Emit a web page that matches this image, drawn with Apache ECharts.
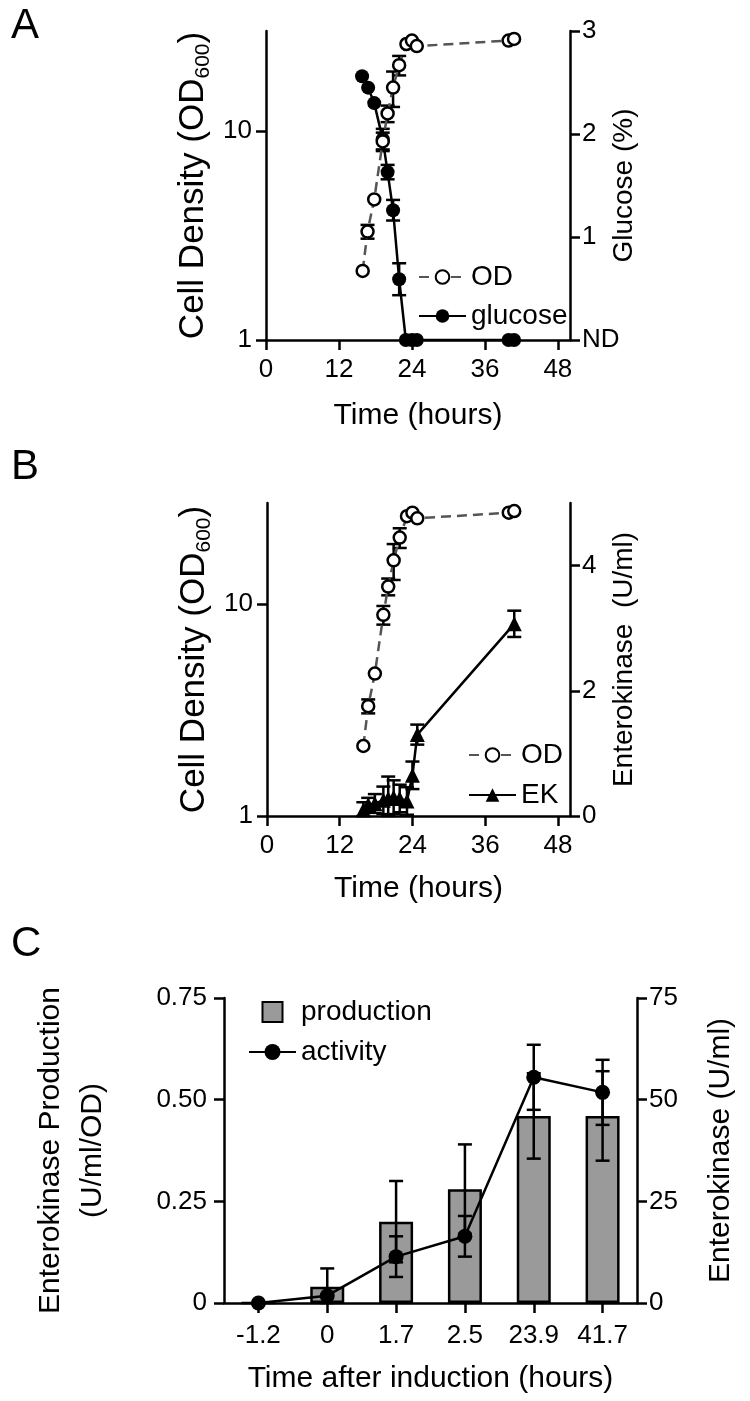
<!DOCTYPE html>
<html>
<head>
<meta charset="utf-8">
<script src="https://cdn.jsdelivr.net/npm/echarts@6/dist/echarts.min.js"></script>
<style>
  html, body { margin: 0; padding: 0; background: #fff; }
  #chart { width: 750px; height: 1401px; }
</style>
</head>
<body>
<div id="chart"></div>
<script>
// panel A / B : growth curve
var odHours = [15.9, 16.7, 17.8, 19.2, 20.0, 20.9, 21.9, 23.1, 24.0, 24.8, 39.9, 40.8];
var odValues = [2.14, 3.3, 4.7, 8.9, 12.1, 16.1, 20.6, 26.0, 27.0, 25.4, 27.0, 27.5];
var odErrors = [0, 0.25, 0, 0.9, 1.1, 3.1, 2.2, 0, 0, 0, 0, 0];

var glucoseHours = [15.8, 16.8, 17.8, 19.2, 20.0, 20.9, 21.9, 23.0, 24.0, 24.8, 39.9, 40.8];
var glucoseValues = [2.56, 2.45, 2.30, 1.95, 1.63, 1.26, 0.59, 0, 0, 0, 0, 0];
var glucoseErrors = [0, 0, 0, 0.1, 0.07, 0.1, 0.155, 0, 0, 0, 0, 0];

var ekHours = [15.9, 16.7, 17.8, 19.2, 20.0, 20.9, 21.9, 23.1, 24.0, 24.8, 40.8];
var ekValues = [0.1, 0.18, 0.2, 0.25, 0.28, 0.3, 0.28, 0.24, 0.65, 1.3, 3.07];
var ekErrors = [0.12, 0.11, 0.15, 0.22, 0.35, 0.27, 0.22, 0.22, 0.22, 0.16, 0.21];

var hourTicks = [0, 12, 24, 36, 48];

// panel C
var inductionLabels = ['-1.2', '0', '1.7', '2.5', '23.9', '41.7'];
var productionValues = [0, 0.04, 0.2, 0.28, 0.46, 0.46];
var productionErrors = [0, 0.045, 0.1, 0.11, 0.105, 0.11];
var activityValues = [0, 1.8, 11.4, 16.4, 55.5, 51.8];
var activityErrors = [0, 0, 5, 5, 8, 8];

var FONT = 'Liberation Sans, Arial, sans-serif';

function pairs(xs, ys) {
  return xs.map(function (x, i) { return [x, ys[i]]; });
}
function errs(xs, ys, es, floor) {
  var out = [];
  xs.forEach(function (x, i) {
    if (es[i] > 0) out.push([x, Math.max(floor, ys[i] - es[i]), ys[i] + es[i]]);
  });
  return out;
}

function errorBar(params, api) {
  var x = api.value(0);
  var lo = api.coord([x, api.value(1)]);
  var hi = api.coord([x, api.value(2)]);
  var w = 7;
  var st = { stroke: '#000', lineWidth: 2.5 };
  return {
    type: 'group',
    children: [
      { type: 'line', shape: { x1: lo[0], y1: lo[1], x2: hi[0], y2: hi[1] }, style: st },
      { type: 'line', shape: { x1: lo[0] - w, y1: lo[1], x2: lo[0] + w, y2: lo[1] }, style: st },
      { type: 'line', shape: { x1: hi[0] - w, y1: hi[1], x2: hi[0] + w, y2: hi[1] }, style: st }
    ]
  };
}

var axisLine = { show: true, onZero: false, lineStyle: { color: '#000', width: 2.5 } };
var axisTick = { show: true, length: 10, lineStyle: { color: '#000', width: 2.5 } };
var labelStyle = { color: '#000', fontSize: 26, fontFamily: FONT };
function nameStyle(size) {
  return { color: '#000', fontSize: size, fontFamily: FONT, lineHeight: Math.round(size * 1.4) };
}
var odNameStyle = {
  color: '#000', fontSize: 35, fontFamily: FONT, lineHeight: 42,
  rich: { sub: { fontSize: 21, lineHeight: 21, fontFamily: FONT, verticalAlign: 'bottom', padding: [16, 0, 0, 0] } }
};

function hourAxis(gridIndex, gap) {
  return {
    type: 'value', gridIndex: gridIndex, min: 0, max: 50,
    axisLine: axisLine,
    axisTick: Object.assign({ customValues: hourTicks }, axisTick),
    axisLabel: Object.assign({ customValues: hourTicks, margin: 17 }, labelStyle),
    splitLine: { show: false },
    name: 'Time (hours)', nameLocation: 'middle', nameGap: gap, nameMoveOverlap: false,
    nameTextStyle: nameStyle(30)
  };
}
function odAxis(gridIndex) {
  return {
    type: 'log', logBase: 10, gridIndex: gridIndex, min: 1, max: 30,
    axisLine: axisLine,
    axisTick: Object.assign({ customValues: [1, 10] }, axisTick),
    axisLabel: Object.assign({ customValues: [1, 10], margin: 14 }, labelStyle),
    splitLine: { show: false },
    name: 'Cell Density (OD{sub|600})', nameLocation: 'middle', nameGap: 52, nameMoveOverlap: false,
    nameTextStyle: odNameStyle
  };
}

var letterStyle = { fontSize: 42, fontWeight: 'normal', color: '#000', fontFamily: FONT };
var legendText = { fontSize: 28, lineHeight: 30, color: '#000', fontFamily: FONT };

var chart = echarts.init(document.getElementById('chart'), null, { renderer: 'canvas' });

var option = {
  backgroundColor: '#fff',
  animation: false,
  textStyle: { fontFamily: FONT },
  title: [
    { text: 'A', left: 6, top: 0, textStyle: letterStyle },
    { text: 'B', left: 6, top: 441, textStyle: letterStyle },
    { text: 'C', left: 6, top: 918, textStyle: letterStyle }
  ],
  grid: [
    { left: 266, top: 31, width: 304, height: 309 },
    { left: 267, top: 503, width: 303, height: 313 },
    { left: 224, top: 998, width: 420, height: 311 }
  ],
  legend: [
    {
      data: ['OD', 'glucose'], orient: 'vertical', left: 413, top: 257,
      itemWidth: 47, itemHeight: 17, itemGap: 9, textStyle: legendText
    },
    {
      data: ['OD', 'EK'], orient: 'vertical', left: 463, top: 735,
      itemWidth: 47, itemHeight: 17, itemGap: 10, textStyle: legendText
    },
    {
      data: [{ name: 'production', icon: 'path://M0,0H10V10H0Z' }, { name: 'activity' }],
      orient: 'vertical', left: 243, top: 992, symbolKeepAspect: true,
      itemWidth: 47, itemHeight: 20, itemGap: 10, textStyle: legendText
    }
  ],
  xAxis: [
    hourAxis(0, 55),
    hourAxis(1, 52),
    {
      type: 'category', gridIndex: 2, data: inductionLabels,
      axisLine: axisLine,
      axisTick: Object.assign({ alignWithLabel: true }, axisTick),
      axisLabel: Object.assign({ margin: 20 }, labelStyle),
      name: 'Time after induction (hours)', nameLocation: 'middle', nameGap: 55, nameMoveOverlap: false,
      nameTextStyle: nameStyle(30)
    }
  ],
  yAxis: [
    odAxis(0),
    {
      type: 'value', gridIndex: 0, min: 0, max: 3, interval: 1, position: 'right',
      axisLine: axisLine, axisTick: axisTick,
      axisLabel: Object.assign({ margin: 12, formatter: function (v) { return v === 0 ? 'ND' : String(v); } }, labelStyle),
      splitLine: { show: false },
      name: 'Glucose (%)', nameLocation: 'middle', nameGap: 35, nameMoveOverlap: false,
      nameTextStyle: nameStyle(28)
    },
    odAxis(1),
    {
      type: 'value', gridIndex: 1, min: 0, max: 5, position: 'right',
      axisLine: axisLine,
      axisTick: Object.assign({ customValues: [0, 2, 4] }, axisTick),
      axisLabel: Object.assign({ margin: 12, customValues: [0, 2, 4] }, labelStyle),
      splitLine: { show: false },
      name: 'Enterokinase  (U/ml)', nameLocation: 'middle', nameGap: 35, nameMoveOverlap: false,
      nameTextStyle: nameStyle(28)
    },
    {
      type: 'value', gridIndex: 2, min: 0, max: 0.75, interval: 0.25,
      axisLine: axisLine, axisTick: axisTick,
      axisLabel: Object.assign({ margin: 17, formatter: function (v) { return v === 0 ? '0' : v.toFixed(2); } }, labelStyle),
      splitLine: { show: false },
      name: 'Enterokinase Production\n(U/ml/OD)', nameLocation: 'middle', nameGap: 110, nameMoveOverlap: false,
      nameTextStyle: Object.assign(nameStyle(30), { lineHeight: 42 })
    },
    {
      type: 'value', gridIndex: 2, min: 0, max: 75, interval: 25, position: 'right',
      axisLine: axisLine, axisTick: axisTick,
      axisLabel: Object.assign({ margin: 12 }, labelStyle),
      splitLine: { show: false },
      name: 'Enterokinase (U/ml)', nameLocation: 'middle', nameGap: 63, nameMoveOverlap: false,
      nameTextStyle: nameStyle(30)
    }
  ],
  series: [
    // A
    {
      name: 'glucose', type: 'line', xAxisIndex: 0, yAxisIndex: 1, z: 3,
      data: pairs(glucoseHours, glucoseValues),
      symbol: 'circle', symbolSize: 14,
      itemStyle: { color: '#000' },
      lineStyle: { color: '#000', width: 2.5 }
    },
    {
      name: 'glucoseErr', type: 'custom', xAxisIndex: 0, yAxisIndex: 1, z: 2,
      renderItem: errorBar, encode: { x: 0, y: [1, 2] },
      data: errs(glucoseHours, glucoseValues, glucoseErrors, 0)
    },
    {
      name: 'OD', type: 'line', xAxisIndex: 0, yAxisIndex: 0, z: 5,
      data: pairs(odHours, odValues),
      symbol: 'circle', symbolSize: 12,
      itemStyle: { color: '#fff', borderColor: '#000', borderWidth: 2.5 },
      lineStyle: { color: '#555', width: 2.5, type: [10, 6] }
    },
    {
      name: 'odErrA', type: 'custom', xAxisIndex: 0, yAxisIndex: 0, z: 4,
      renderItem: errorBar, encode: { x: 0, y: [1, 2] },
      data: errs(odHours, odValues, odErrors, 1)
    },
    // B
    {
      name: 'EK', type: 'line', xAxisIndex: 1, yAxisIndex: 3, z: 3,
      data: pairs(ekHours, ekValues),
      symbol: 'triangle', symbolSize: 15,
      itemStyle: { color: '#000' },
      lineStyle: { color: '#000', width: 2.5 }
    },
    {
      name: 'ekErr', type: 'custom', xAxisIndex: 1, yAxisIndex: 3, z: 2,
      renderItem: errorBar, encode: { x: 0, y: [1, 2] },
      data: errs(ekHours, ekValues, ekErrors, 0)
    },
    {
      name: 'OD', type: 'line', xAxisIndex: 1, yAxisIndex: 2, z: 5,
      data: pairs(odHours, odValues),
      symbol: 'circle', symbolSize: 12,
      itemStyle: { color: '#fff', borderColor: '#000', borderWidth: 2.5 },
      lineStyle: { color: '#555', width: 2.5, type: [10, 6] }
    },
    {
      name: 'odErrB', type: 'custom', xAxisIndex: 1, yAxisIndex: 2, z: 4,
      renderItem: errorBar, encode: { x: 0, y: [1, 2] },
      data: errs(odHours, odValues, odErrors, 1)
    },
    // C
    {
      name: 'production', type: 'bar', xAxisIndex: 2, yAxisIndex: 4, z: 2,
      data: productionValues, barWidth: 34,
      itemStyle: { color: '#9a9a9a', borderColor: '#000', borderWidth: 2.5 }
    },
    {
      name: 'productionErr', type: 'custom', xAxisIndex: 2, yAxisIndex: 4, z: 3,
      renderItem: errorBar, encode: { x: 0, y: [1, 2] },
      data: errs(inductionLabels.map(function (l, i) { return i; }), productionValues, productionErrors, 0)
    },
    {
      name: 'activity', type: 'line', xAxisIndex: 2, yAxisIndex: 5, z: 5,
      data: activityValues,
      symbol: 'circle', symbolSize: 15,
      itemStyle: { color: '#000' },
      lineStyle: { color: '#000', width: 2.5 }
    },
    {
      name: 'activityErr', type: 'custom', xAxisIndex: 2, yAxisIndex: 5, z: 4,
      renderItem: errorBar, encode: { x: 0, y: [1, 2] },
      data: errs(inductionLabels.map(function (l, i) { return i; }), activityValues, activityErrors, 0)
    }
  ]
};

chart.setOption(option);
</script>
</body>
</html>
